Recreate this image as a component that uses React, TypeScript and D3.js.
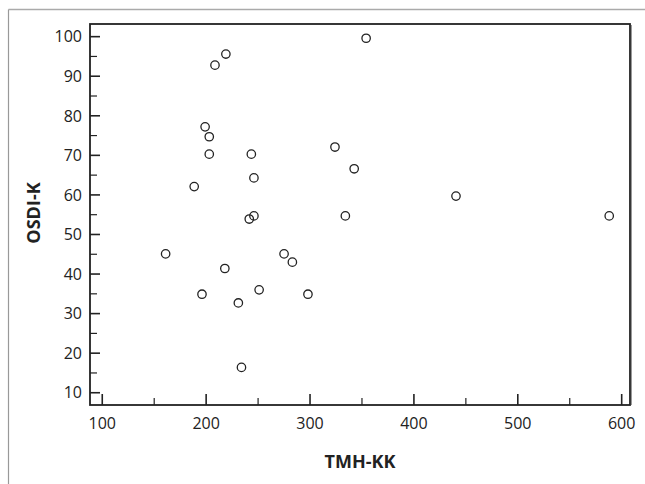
import * as d3 from "d3";

const tmhKK = [354, 219, 208.5, 199, 203, 203, 243.5, 324, 342.5, 246, 188.5, 246, 241.5, 334, 440.5, 588, 161, 275, 283, 218, 196, 251, 298, 231, 234];
const osdiK = [99.6, 95.6, 92.8, 77.2, 74.7, 70.3, 70.3, 72.1, 66.6, 64.3, 62.1, 54.7, 53.9, 54.7, 59.7, 54.7, 45.1, 45.1, 43.0, 41.4, 34.9, 36.0, 34.9, 32.7, 16.4];
const xTicks = [100, 200, 300, 400, 500, 600];
const xMinor = [150, 250, 350, 450, 550];
const yTicks = [10, 20, 30, 40, 50, 60, 70, 80, 90, 100];
const yMinor = [15, 25, 35, 45, 55, 65, 75, 85, 95];

const W = 645;
const H = 484;
const box = { left: 90, top: 24, right: 630, bottom: 405 };
const ink = "#222";
const font = "'Open Sans', 'DejaVu Sans', sans-serif";

export default function App() {
  const x = d3.scaleLinear().domain([88.2, 608]).range([box.left, box.right]);
  const y = d3.scaleLinear().domain([6.9, 103.2]).range([box.bottom, box.top]);

  return (
    <svg width={W} height={H} style={{ position: "absolute", left: 0, top: 0, background: "#fff" }}>
      {/* outer frame */}
      <line x1={8.5} y1={9.5} x2={W} y2={9.5} stroke="#aaa" strokeWidth={1.5} />
      <line x1={8.5} y1={9.5} x2={8.5} y2={H} stroke="#999" strokeWidth={1.2} />

      {/* plot box */}
      <line x1={box.right + 1.5} y1={box.top + 1} x2={box.right + 1.5} y2={box.bottom} stroke="#999" strokeWidth={1} />
      <rect x={box.left} y={box.top} width={box.right - box.left} height={box.bottom - box.top}
        fill="none" stroke={ink} strokeWidth={1.8} />

      {/* y ticks */}
      {yTicks.map((t) => (
        <g key={"y" + t}>
          <line x1={box.left} x2={box.left + 10} y1={y(t)} y2={y(t)} stroke={ink} strokeWidth={1.6} />
          <text x={box.left - 8} y={y(t)} dy="0.36em" textAnchor="end" fontFamily={font} fontSize={16} fill={ink}>{t}</text>
        </g>
      ))}
      {yMinor.map((t) => (
        <line key={"ym" + t} x1={box.left} x2={box.left + 7} y1={y(t)} y2={y(t)} stroke={ink} strokeWidth={1.2} />
      ))}

      {/* x ticks */}
      {xTicks.map((t) => (
        <g key={"x" + t}>
          <line x1={x(t)} x2={x(t)} y1={box.bottom} y2={box.bottom - 11} stroke={ink} strokeWidth={1.6} />
          <text x={x(t)} y={box.bottom + 24} textAnchor="middle" fontFamily={font} fontSize={16} fill={ink}>{t}</text>
        </g>
      ))}
      {xMinor.map((t) => (
        <line key={"xm" + t} x1={x(t)} x2={x(t)} y1={box.bottom} y2={box.bottom - 7} stroke={ink} strokeWidth={1.2} />
      ))}

      {/* points */}
      {tmhKK.map((v, i) => (
        <circle key={i} cx={x(v)} cy={y(osdiK[i])} r={4.2} fill="none" stroke={ink} strokeWidth={1.3} />
      ))}

      {/* axis titles */}
      <text x={360} y={468} textAnchor="middle" fontFamily={font} fontWeight="bold" fontSize={18} fill={ink}>TMH-KK</text>
      <text transform="translate(40,213) rotate(-90)" textAnchor="middle" fontFamily={font} fontWeight="bold" fontSize={18} fill={ink}>OSDI-K</text>
    </svg>
  );
}
